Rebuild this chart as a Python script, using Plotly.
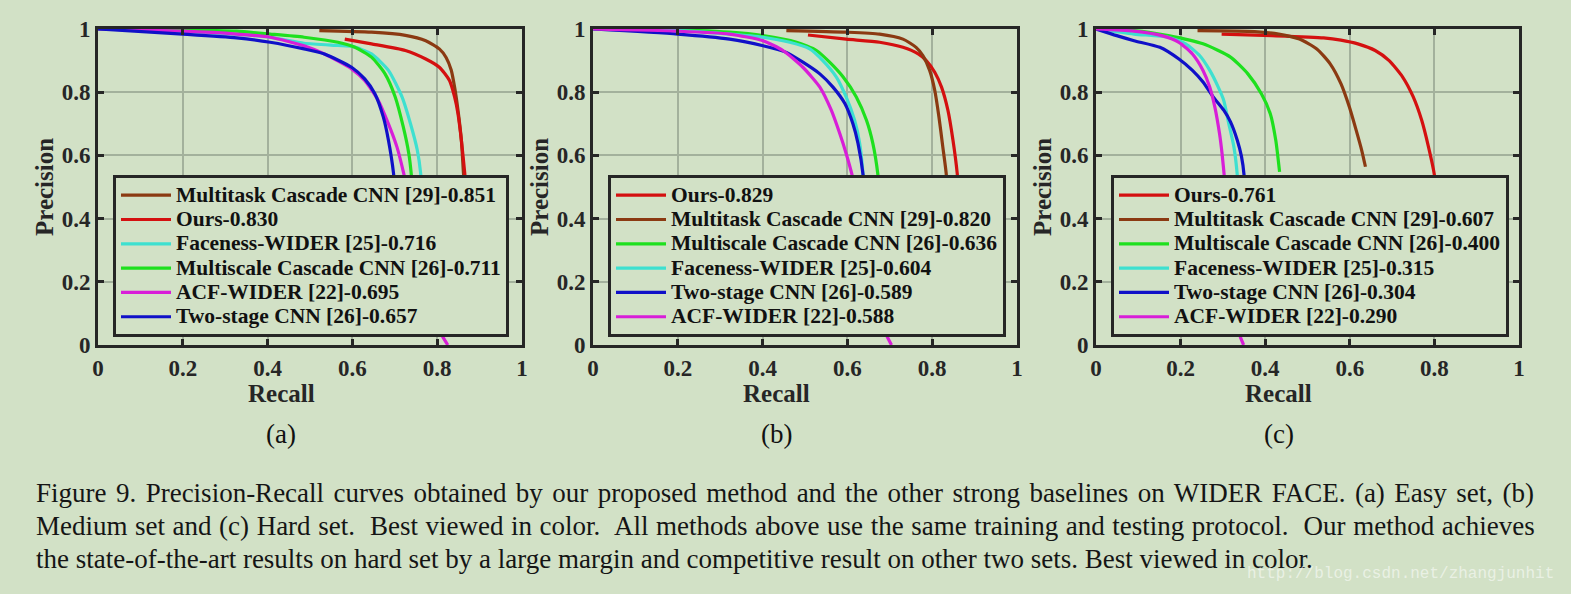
import plotly.graph_objects as go

# ---------------- data ----------------
tick_vals = [0, 0.2, 0.4, 0.6, 0.8, 1]
tick_text = ["0", "0.2", "0.4", "0.6", "0.8", "1"]

# (a) Easy set
easy_mtcnn_r = [0.522, 0.645, 0.725, 0.773, 0.805, 0.821, 0.833, 0.841, 0.849, 0.857, 0.862, 0.867]
easy_mtcnn_p = [0.995, 0.99, 0.98, 0.963, 0.937, 0.91, 0.87, 0.816, 0.743, 0.648, 0.543, 0.45]
easy_ours_r = [0.582, 0.645, 0.725, 0.773, 0.805, 0.829, 0.841, 0.849, 0.857, 0.865, 0.870]
easy_ours_p = [0.968, 0.953, 0.932, 0.905, 0.879, 0.837, 0.785, 0.732, 0.648, 0.543, 0.45]
easy_face_r = [0.0, 0.2, 0.4, 0.486, 0.566, 0.60, 0.645, 0.685, 0.717, 0.737, 0.753, 0.761, 0.765]
easy_face_p = [1.0, 0.993, 0.975, 0.955, 0.948, 0.945, 0.921, 0.869, 0.785, 0.70, 0.617, 0.543, 0.45]
easy_msc_r = [0.0, 0.2, 0.327, 0.406, 0.486, 0.566, 0.606, 0.645, 0.677, 0.701, 0.72, 0.733, 0.739, 0.743]
easy_msc_p = [1.0, 0.997, 0.993, 0.984, 0.974, 0.958, 0.942, 0.911, 0.858, 0.785, 0.69, 0.606, 0.538, 0.45]
easy_acf_r = [0.0, 0.2, 0.327, 0.406, 0.486, 0.534, 0.598, 0.629, 0.661, 0.685, 0.705, 0.721, 0.75, 0.78, 0.805, 0.825]
easy_acf_p = [1.0, 0.993, 0.984, 0.974, 0.947, 0.921, 0.874, 0.837, 0.774, 0.70, 0.627, 0.543, 0.36, 0.19, 0.046, 0.0]
easy_two_r = [0.0, 0.2, 0.327, 0.406, 0.486, 0.534, 0.598, 0.629, 0.653, 0.673, 0.685, 0.697, 0.702]
easy_two_p = [1.0, 0.984, 0.972, 0.958, 0.937, 0.921, 0.879, 0.842, 0.795, 0.721, 0.648, 0.543, 0.45]

# (b) Medium set
med_ours_r = [0.507, 0.597, 0.676, 0.731, 0.767, 0.786, 0.806, 0.822, 0.837, 0.849, 0.859, 0.864]
med_ours_p = [0.981, 0.968, 0.958, 0.942, 0.921, 0.90, 0.863, 0.816, 0.743, 0.648, 0.543, 0.45]
med_mtcnn_r = [0.456, 0.597, 0.676, 0.731, 0.762, 0.778, 0.794, 0.806, 0.816, 0.825, 0.833, 0.837]
med_mtcnn_p = [0.995, 0.99, 0.984, 0.968, 0.942, 0.916, 0.869, 0.806, 0.721, 0.627, 0.543, 0.45]
med_msc_r = [0.0, 0.2, 0.322, 0.401, 0.48, 0.527, 0.558, 0.59, 0.621, 0.645, 0.66, 0.672, 0.677]
med_msc_p = [1.0, 0.997, 0.99, 0.979, 0.958, 0.932, 0.895, 0.848, 0.785, 0.711, 0.638, 0.538, 0.45]
med_face_r = [0.0, 0.2, 0.322, 0.401, 0.464, 0.511, 0.542, 0.574, 0.597, 0.617, 0.629, 0.637, 0.641]
med_face_p = [1.0, 0.995, 0.984, 0.974, 0.958, 0.937, 0.90, 0.848, 0.785, 0.711, 0.638, 0.538, 0.45]
med_two_r = [0.0, 0.2, 0.322, 0.401, 0.456, 0.495, 0.535, 0.566, 0.594, 0.613, 0.625, 0.637, 0.641]
med_two_p = [1.0, 0.984, 0.968, 0.947, 0.926, 0.895, 0.858, 0.816, 0.764, 0.70, 0.638, 0.538, 0.45]
med_acf_r = [0.0, 0.2, 0.322, 0.401, 0.448, 0.495, 0.535, 0.562, 0.582, 0.597, 0.611, 0.65, 0.688, 0.704]
med_acf_p = [1.0, 0.993, 0.984, 0.963, 0.932, 0.879, 0.816, 0.743, 0.669, 0.606, 0.538, 0.30, 0.044, 0.0]

# (c) Hard set
hard_ours_r = [0.297, 0.416, 0.538, 0.579, 0.619, 0.66, 0.693, 0.725, 0.75, 0.77, 0.786, 0.80, 0.806]
hard_ours_p = [0.984, 0.979, 0.972, 0.965, 0.953, 0.932, 0.90, 0.848, 0.785, 0.711, 0.627, 0.538, 0.45]
hard_mtcnn_r = [0.24, 0.375, 0.432, 0.481, 0.522, 0.554, 0.579, 0.599, 0.615, 0.628, 0.637]
hard_mtcnn_p = [0.995, 0.992, 0.984, 0.968, 0.937, 0.889, 0.827, 0.753, 0.68, 0.617, 0.564]
hard_msc_r = [0.0, 0.09, 0.171, 0.253, 0.318, 0.359, 0.391, 0.412, 0.425, 0.434]
hard_msc_p = [1.0, 0.995, 0.979, 0.953, 0.911, 0.858, 0.795, 0.732, 0.648, 0.548]
hard_face_r = [0.0, 0.09, 0.171, 0.212, 0.245, 0.269, 0.289, 0.302, 0.314, 0.326, 0.334, 0.338]
hard_face_p = [1.0, 0.984, 0.974, 0.953, 0.916, 0.869, 0.816, 0.774, 0.70, 0.627, 0.538, 0.45]
hard_two_r = [0.0, 0.049, 0.09, 0.151, 0.196, 0.228, 0.253, 0.277, 0.302, 0.318, 0.334, 0.344, 0.35, 0.353]
hard_two_p = [1.0, 0.979, 0.963, 0.942, 0.905, 0.869, 0.832, 0.785, 0.743, 0.706, 0.648, 0.596, 0.538, 0.45]
hard_acf_r = [0.0, 0.09, 0.155, 0.196, 0.228, 0.253, 0.269, 0.281, 0.292, 0.298, 0.303, 0.32, 0.338, 0.349]
hard_acf_p = [1.0, 0.993, 0.979, 0.958, 0.921, 0.869, 0.816, 0.753, 0.669, 0.606, 0.538, 0.30, 0.039, 0.0]

# ---------------- styling ----------------
W, H = 1571, 594
BG = "#d2e1c6"
DARK = "#262626"
GRID = "#a3b19c"
SERIF = "Liberation Serif, Times New Roman, serif"
C_OURS = "#d41010"
C_MTCNN = "#8b3a12"
C_MSC = "#1ee01e"
C_FACE = "#3ee0d0"
C_TWO = "#1010c8"
C_ACF = "#d81ed8"

panels = [
    ("x", "y", "legend", [
        ("Multitask Cascade CNN [29]-0.851", easy_mtcnn_r, easy_mtcnn_p, C_MTCNN),
        ("Ours-0.830", easy_ours_r, easy_ours_p, C_OURS),
        ("Faceness-WIDER [25]-0.716", easy_face_r, easy_face_p, C_FACE),
        ("Multiscale Cascade CNN [26]-0.711", easy_msc_r, easy_msc_p, C_MSC),
        ("ACF-WIDER [22]-0.695", easy_acf_r, easy_acf_p, C_ACF),
        ("Two-stage CNN [26]-0.657", easy_two_r, easy_two_p, C_TWO),
    ]),
    ("x2", "y2", "legend2", [
        ("Ours-0.829", med_ours_r, med_ours_p, C_OURS),
        ("Multitask Cascade CNN [29]-0.820", med_mtcnn_r, med_mtcnn_p, C_MTCNN),
        ("Multiscale Cascade CNN [26]-0.636", med_msc_r, med_msc_p, C_MSC),
        ("Faceness-WIDER [25]-0.604", med_face_r, med_face_p, C_FACE),
        ("Two-stage CNN [26]-0.589", med_two_r, med_two_p, C_TWO),
        ("ACF-WIDER [22]-0.588", med_acf_r, med_acf_p, C_ACF),
    ]),
    ("x3", "y3", "legend3", [
        ("Ours-0.761", hard_ours_r, hard_ours_p, C_OURS),
        ("Multitask Cascade CNN [29]-0.607", hard_mtcnn_r, hard_mtcnn_p, C_MTCNN),
        ("Multiscale Cascade CNN [26]-0.400", hard_msc_r, hard_msc_p, C_MSC),
        ("Faceness-WIDER [25]-0.315", hard_face_r, hard_face_p, C_FACE),
        ("Two-stage CNN [26]-0.304", hard_two_r, hard_two_p, C_TWO),
        ("ACF-WIDER [22]-0.290", hard_acf_r, hard_acf_p, C_ACF),
    ]),
]

LEG_TEXT_PX = 21.5   # rendered size of legend text
LEG_ROW_FONT = 16.4  # legend font size that sets the row pitch (1.3 * size + 3)

fig = go.Figure()
for xa, ya, lg, series in panels:
    for name, r, p, col in series:
        fig.add_trace(go.Scatter(
            x=r, y=p, mode="lines", xaxis=xa, yaxis=ya, legend=lg,
            name='<span style="font-size:%gpx">%s</span>' % (LEG_TEXT_PX, name),
            line=dict(color=col, width=3.2, shape="spline", smoothing=0.6),
            hoverinfo="skip",
        ))

# pixel geometry of the three plot boxes
x_px = [(98, 522), (593, 1017), (1096, 1519)]
y_top, y_bot = 29, 345
ydom = [1 - y_bot / H, 1 - y_top / H]

axis_common = dict(
    range=[0, 1], tickvals=tick_vals, ticktext=tick_text,
    showline=True, linecolor=DARK, linewidth=3, mirror="allticks",
    ticks="inside", ticklen=6, tickwidth=3, tickcolor=DARK,
    showgrid=True, gridcolor=GRID, gridwidth=2, zeroline=False,
    tickfont=dict(family=SERIF, size=23, color=DARK, weight="bold"),
    fixedrange=True, automargin=False,
)

layout = dict(
    width=W, height=H, paper_bgcolor=BG, plot_bgcolor=BG,
    margin=dict(l=0, r=0, t=0, b=0, autoexpand=False), showlegend=True,
)
for i, (l, r) in enumerate(x_px):
    sfx = "" if i == 0 else str(i + 1)
    layout["xaxis" + sfx] = dict(axis_common, domain=[l / W, r / W],
                                 anchor="y" + sfx)
    layout["yaxis" + sfx] = dict(axis_common, domain=ydom, anchor="x" + sfx)
    layout["legend" + sfx] = dict(
        x=(l + 15) / W, y=1 - 175 / H, xanchor="left", yanchor="top",
        bgcolor=BG, bordercolor=DARK, borderwidth=3,
        font=dict(family=SERIF, size=LEG_ROW_FONT, color="#111111", weight="bold"),
        itemwidth=50, tracegroupgap=0,
    )
fig.update_layout(**layout)

annotations = []
labels = ["(a)", "(b)", "(c)"]
for i, (l, r) in enumerate(x_px):
    sfx = "" if i == 0 else str(i + 1)
    xd = "x" + sfx + " domain"
    yd = "y" + sfx + " domain"
    annotations.append(dict(text="<b>Recall</b>", xref=xd, yref=yd, x=0.432, y=0,
                            yshift=-48, xanchor="center", yanchor="middle",
                            showarrow=False,
                            font=dict(family=SERIF, size=25, color=DARK)))
    annotations.append(dict(text="<b>Precision</b>", xref=xd, yref=yd, x=0, y=0.5,
                            xshift=-54, xanchor="center", yanchor="middle",
                            textangle=-90, showarrow=False,
                            font=dict(family=SERIF, size=25, color=DARK)))
    annotations.append(dict(text=labels[i], xref=xd, yref=yd, x=0.432, y=0,
                            yshift=-89, xanchor="center", yanchor="middle",
                            showarrow=False,
                            font=dict(family=SERIF, size=27, color="#111111")))

caption_lines = [
    "Figure 9. Precision-Recall curves obtained by our proposed method and the other strong baselines on WIDER FACE. (a) Easy set, (b)",
    "Medium set and (c) Hard set.  Best viewed in color.  All methods above use the same training and testing protocol.  Our method achieves",
    "the state-of-the-art results on hard set by a large margin and competitive result on other two sets. Best viewed in color.",
]
caption_wordspacing = [2.7, 0.8, 0.0]   # justification of the paragraph
caption_y = [493, 526, 559]
for txt, ws, yy in zip(caption_lines, caption_wordspacing, caption_y):
    annotations.append(dict(text='<span style="word-spacing:%gpx">%s</span>' % (ws, txt),
                            xref="paper", yref="paper", x=34 / W, y=1 - yy / H,
                            xanchor="left", yanchor="middle", showarrow=False,
                            font=dict(family=SERIF, size=27, color="#151515")))

annotations.append(dict(text="http://blog.csdn.net/zhangjunhit", xref="paper", yref="paper",
                        x=1556 / W, y=1 - 574 / H, xanchor="right", yanchor="middle",
                        showarrow=False,
                        font=dict(family="Liberation Mono, monospace", size=16,
                                  color="rgba(255,255,255,0.55)")))

fig.update_layout(annotations=annotations)
fig.write_html(
    "out.html",
    config={"displayModeBar": False},
    post_script="document.body.style.margin='0';document.body.style.background='%s';" % BG,
)
